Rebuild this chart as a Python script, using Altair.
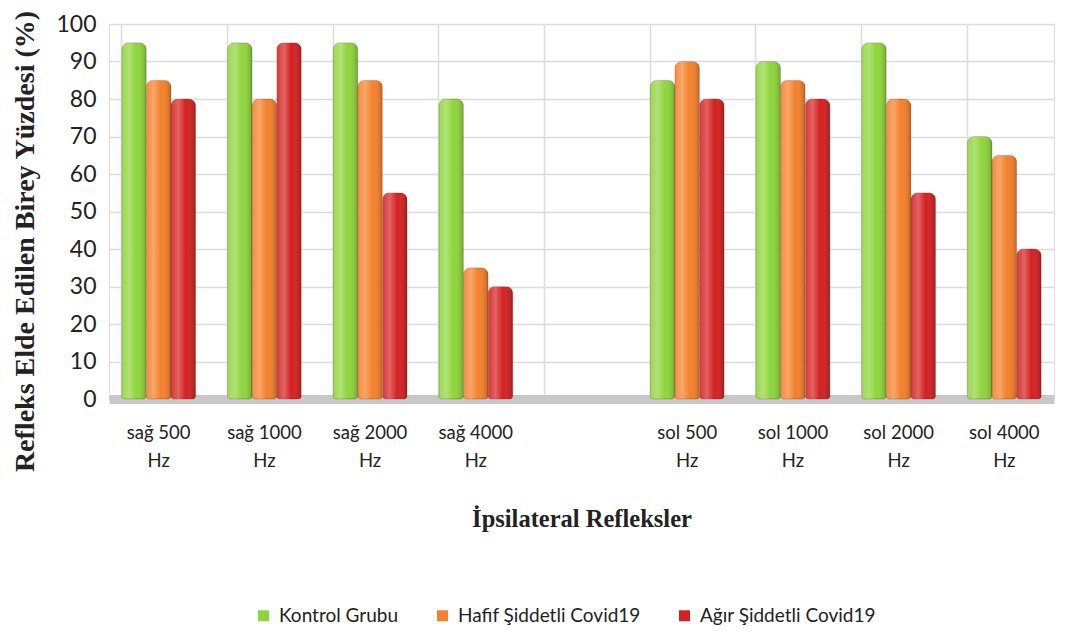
import altair as alt
import pandas as pd

categories = ["sağ 500 Hz", "sağ 1000 Hz", "sağ 2000 Hz", "sağ 4000 Hz", "—",
              "sol 500 Hz", "sol 1000 Hz", "sol 2000 Hz", "sol 4000 Hz"]
series = ["Kontrol Grubu", "Hafif Şiddetli Covid19", "Ağır Şiddetli Covid19"]
colors = ["#8ed53a", "#f4802a", "#d42020"]

kontrol = [95, 95, 95, 80, None, 85, 90, 95, 70]
hafif = [85, 80, 85, 35, None, 90, 85, 80, 65]
agir = [80, 95, 55, 30, None, 80, 80, 55, 40]

rows = []
for s, vals in zip(series, [kontrol, hafif, agir]):
    for c, v in zip(categories, vals):
        if v is not None:
            rows.append({"Kategori": c, "Grup": s, "Yüzde": v})
df = pd.DataFrame(rows)

label_font = "Lato"
title_font = "Liberation Serif"

x_enc = alt.X("Kategori:N", sort=categories,
              scale=alt.Scale(domain=categories, paddingInner=0.3, paddingOuter=0.12),
              axis=alt.Axis(
                  title="İpsilateral Refleksler",
                  labelAngle=0,
                  labelExpr="datum.value == '—' ? '' : [replace(datum.value, ' Hz', ''), 'Hz']",
                  labelFont=label_font, labelFontSize=18.5, labelColor="#222222",
                  labelPadding=24, labelLineHeight=28,
                  ticks=False,
                  domainColor="#c8c8c8", domainWidth=9,
                  grid=True, gridColor="#dcdcdc", gridWidth=1.5, bandPosition=0,
                  titleFont=title_font, titleFontSize=24.5, titleFontWeight="bold",
                  titleColor="#222222", titlePadding=38,
              ))
xoff_enc = alt.XOffset("Grup:N", sort=series,
                       scale=alt.Scale(domain=series, paddingInner=0, paddingOuter=0))
y_enc = alt.Y("Yüzde:Q",
              scale=alt.Scale(domain=[0, 100]),
              axis=alt.Axis(
                  title="Refleks Elde Edilen Birey Yüzdesi (%)",
                  values=list(range(0, 101, 10)),
                  labelFont=label_font, labelFontSize=23, labelColor="#222222",
                  labelPadding=13,
                  ticks=False, domain=False,
                  gridColor="#dcdcdc", gridWidth=1.5,
                  titleFont=title_font, titleFontSize=28, titleFontWeight="bold",
                  titleColor="#222222", titlePadding=16, titleY=217,
              ))

bar_shape = dict(cornerRadiusTopLeft=7, cornerRadiusTopRight=7,
                 cornerRadiusBottomLeft=3, cornerRadiusBottomRight=3)

bars = alt.Chart(df).mark_bar(
    stroke="#5a1a0a", strokeOpacity=0.25, strokeWidth=0.8, **bar_shape
).encode(
    x=x_enc, xOffset=xoff_enc, y=y_enc,
    color=alt.Color("Grup:N", sort=series,
                    scale=alt.Scale(domain=series, range=colors),
                    legend=alt.Legend(
                        title=None, orient="none", direction="horizontal",
                        legendX=145, legendY=582,
                        symbolType="square", symbolSize=120, symbolStrokeWidth=0,
                        labelFont=label_font, labelFontSize=19, labelColor="#222222",
                        labelLimit=400, columnPadding=34, labelOffset=6,
                    )),
)

shade = alt.Chart(df).mark_bar(
    color=alt.Gradient(
        gradient="linear", x1=0, x2=1, y1=0, y2=0,
        stops=[
            alt.GradientStop(offset=0, color="rgba(255,255,255,0.10)"),
            alt.GradientStop(offset=0.3, color="rgba(255,255,255,0.30)"),
            alt.GradientStop(offset=0.6, color="rgba(255,255,255,0.0)"),
            alt.GradientStop(offset=1, color="rgba(0,0,0,0.22)"),
        ],
    ),
    **bar_shape
).encode(x=x_enc, xOffset=xoff_enc, y=y_enc)

chart = alt.layer(bars, shade).properties(width=945, height=375).configure_view(
    strokeWidth=0
).configure(padding={"left": 3, "top": 1, "right": 10, "bottom": 5})

chart.save("out.html", embed_options={"renderer": "svg", "actions": False})
